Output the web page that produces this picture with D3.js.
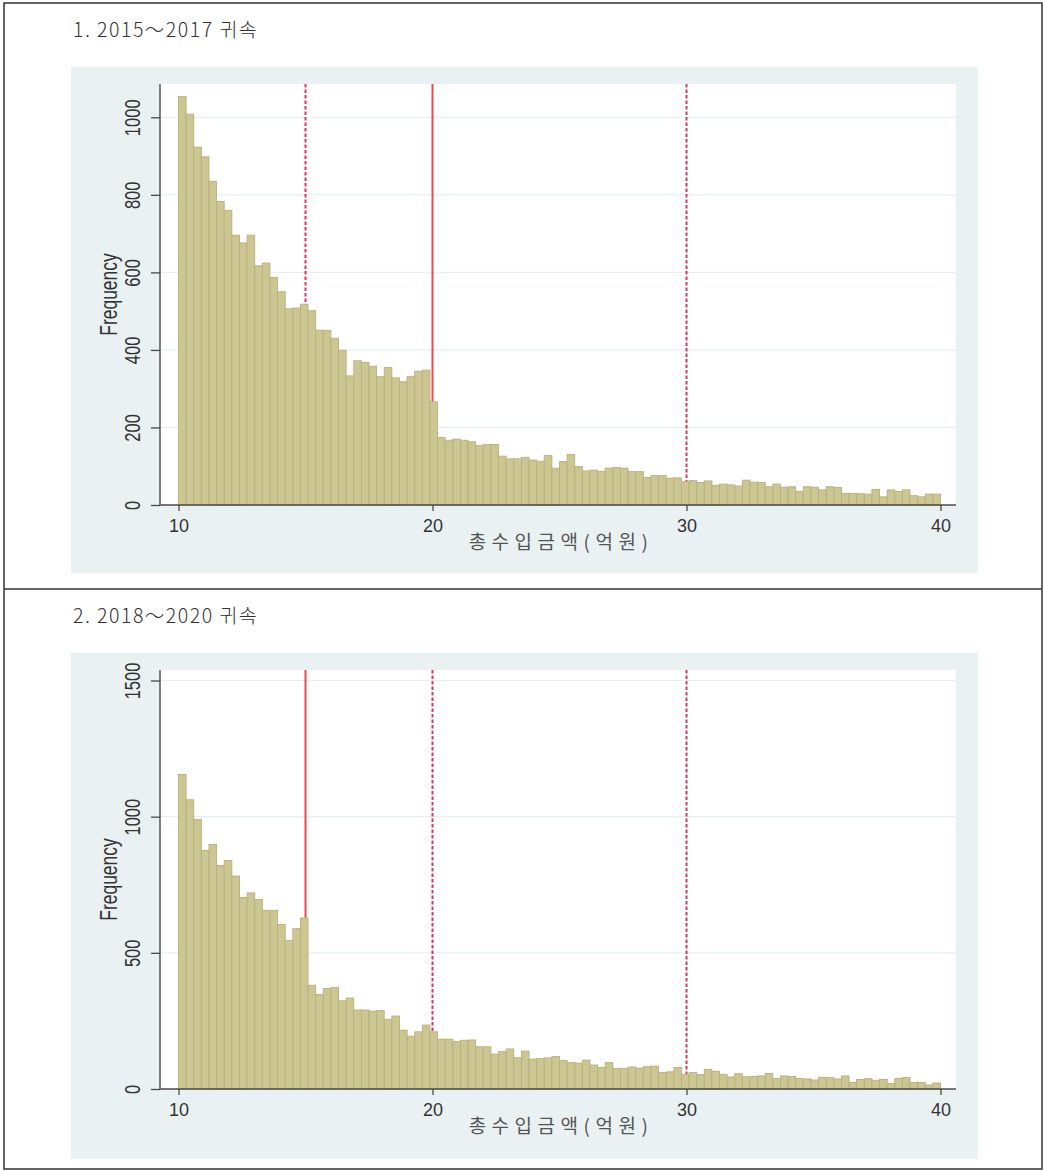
<!DOCTYPE html>
<html>
<head>
<meta charset="utf-8">
<script src="https://cdn.jsdelivr.net/npm/d3@7"></script>
<style>
  body { margin: 0; background: #fff; }
  svg { display: block; }
</style>
</head>
<body>
<svg id="chart" width="1044" height="1171"></svg>
<script>
// Histogram bins: 100 bins of width 0.3 from 10 to 40 (억원)
const binStart = 10;
const binWidth = 0.3;

// Frequencies, 2015~2017 귀속
const freq2015 = [
  1054, 1008, 923, 898, 835, 783, 760, 696, 676, 696,
  617, 624, 587, 550, 506, 508, 518, 501, 451, 450,
  430, 399, 333, 372, 368, 358, 331, 355, 328, 318,
  331, 345, 348, 266, 174, 167, 170, 167, 163, 153,
  156, 156, 126, 119, 119, 123, 116, 113, 128, 95,
  112, 130, 99, 88, 90, 87, 95, 97, 95, 86,
  86, 71, 76, 76, 69, 70, 60, 63, 58, 62,
  51, 54, 52, 49, 64, 59, 58, 47, 54, 46,
  47, 35, 47, 46, 39, 47, 45, 30, 30, 29,
  28, 40, 21, 39, 35, 39, 24, 21, 28, 28
];

// Frequencies, 2018~2020 귀속
const freq2018 = [
  1155, 1062, 990, 876, 898, 821, 839, 782, 703, 720,
  696, 656, 656, 604, 546, 589, 628, 381, 347, 369,
  373, 324, 334, 290, 290, 286, 288, 256, 268, 216,
  194, 210, 235, 210, 183, 183, 174, 179, 180, 155,
  155, 128, 137, 147, 115, 139, 110, 112, 114, 119,
  105, 97, 95, 106, 88, 79, 97, 76, 76, 81,
  77, 82, 84, 61, 63, 79, 53, 61, 53, 72,
  65, 54, 44, 56, 45, 46, 48, 57, 39, 48,
  46, 39, 37, 33, 43, 42, 37, 48, 24, 35,
  38, 32, 35, 20, 38, 42, 24, 24, 15, 22
];

const xTicks = [10, 20, 30, 40];
const yTicks2015 = [0, 200, 400, 600, 800, 1000];
const yTicks2018 = [0, 500, 1000, 1500];

// Threshold lines: the main threshold (solid) and the others (dashed)
const mainLine2015 = 20;
const otherLines2015 = [15, 30];
const mainLine2018 = 15;
const otherLines2018 = [20, 30];

const panelTitles = ["1. 2015～2017 귀속", "2. 2018～2020 귀속"];
const xTitle = "총수입금액(억원)";
const yTitle = "Frequency";

const svg = d3.select("#chart");

// Outer table frame with a divider between the two rows
const frame = svg.append("g").attr("fill", "none").attr("stroke", "#333").attr("stroke-width", 1.5);
frame.append("rect").attr("x", 4).attr("y", 3).attr("width", 1038).attr("height", 1166);
frame.append("line").attr("x1", 4).attr("x2", 1042).attr("y1", 589).attr("y2", 589);

const panels = [
  { title: panelTitles[0], data: freq2015, yTicks: yTicks2015, yMax: 1000,
    main: mainLine2015, others: otherLines2015,
    titleY: 37, bgTop: 67, plotTop: 84, plotBottom: 505, yMaxPx: 117.3 },
  { title: panelTitles[1], data: freq2018, yTicks: yTicks2018, yMax: 1500,
    main: mainLine2018, others: otherLines2018,
    titleY: 623, bgTop: 653, plotTop: 670, plotBottom: 1089, yMaxPx: 680.5 }
];

const plotLeft = 160, plotRight = 956;
const x = d3.scaleLinear().domain([10, 40]).range([178.5, 940.5]);

const bins = d3.range(freq2015.length).map(i => binStart + i * binWidth);

panels.forEach(p => {
  const g = svg.append("g");

  g.append("text")
    .attr("x", 73).attr("y", p.titleY)
    .attr("font-family", "'Noto Sans CJK KR', 'Noto Sans', sans-serif")
    .attr("font-weight", 300)
    .attr("font-size", 19.5)
    .attr("letter-spacing", 1.5)
    .attr("fill", "#333")
    .text(p.title);

  // Graph region and plot region
  g.append("rect").attr("x", 71).attr("y", p.bgTop).attr("width", 907).attr("height", 506)
    .attr("fill", "#EAF1F3");
  g.append("rect").attr("x", plotLeft).attr("y", p.plotTop)
    .attr("width", plotRight - plotLeft).attr("height", p.plotBottom - p.plotTop)
    .attr("fill", "#fff");

  const y = d3.scaleLinear().domain([0, p.yMax]).range([p.plotBottom, p.yMaxPx]);

  // Horizontal gridlines
  g.append("g").selectAll("line").data(p.yTicks.filter(v => v > 0)).join("line")
    .attr("x1", plotLeft).attr("x2", plotRight)
    .attr("y1", d => y(d)).attr("y2", d => y(d))
    .attr("stroke", "#E6EFF1").attr("stroke-width", 1.2);

  // Threshold lines, drawn beneath the bars
  g.append("line")
    .attr("x1", x(p.main)).attr("x2", x(p.main))
    .attr("y1", p.plotTop).attr("y2", p.plotBottom)
    .attr("stroke", "#EC4A4C").attr("stroke-width", 2);
  g.append("g").selectAll("line").data(p.others).join("line")
    .attr("x1", d => x(d)).attr("x2", d => x(d))
    .attr("y1", p.plotTop).attr("y2", p.plotBottom)
    .attr("stroke", "#D8385C").attr("stroke-width", 2)
    .attr("stroke-dasharray", "3.5,2");

  // Histogram bars
  g.append("g").selectAll("rect").data(p.data).join("rect")
    .attr("x", (d, i) => x(bins[i]))
    .attr("width", (d, i) => x(bins[i] + binWidth) - x(bins[i]))
    .attr("y", d => y(d))
    .attr("height", d => y(0) - y(d))
    .attr("fill", "#CCC692")
    .attr("stroke", "#B9B17A")
    .attr("stroke-width", 0.9);

  // Axis lines
  const axisColor = "#4a4a4a";
  g.append("line").attr("x1", plotLeft).attr("x2", plotLeft)
    .attr("y1", p.plotTop).attr("y2", p.plotBottom)
    .attr("stroke", axisColor).attr("stroke-width", 1.4);
  g.append("line").attr("x1", plotLeft).attr("x2", plotRight)
    .attr("y1", p.plotBottom).attr("y2", p.plotBottom)
    .attr("stroke", axisColor).attr("stroke-width", 1.4);

  // Y axis: ticks with vertical labels
  const yAxis = g.append("g")
    .attr("transform", `translate(${plotLeft},0)`)
    .call(d3.axisLeft(y).tickValues(p.yTicks).tickSize(9).tickFormat(d3.format("d")));
  yAxis.select(".domain").remove();
  yAxis.selectAll(".tick line").attr("stroke", axisColor).attr("stroke-width", 1.3);
  yAxis.selectAll(".tick text")
    .attr("x", null).attr("dy", null)
    .attr("text-anchor", "middle")
    .attr("transform", "translate(-20,0) scale(1.3,1) rotate(-90)")
    .attr("font-family", "'Liberation Sans', Arial, sans-serif")
    .attr("font-size", 16.5)
    .attr("fill", "#333");

  // X axis
  const xAxis = g.append("g")
    .attr("transform", `translate(0,${p.plotBottom})`)
    .call(d3.axisBottom(x).tickValues(xTicks).tickSize(6).tickPadding(8));
  xAxis.select(".domain").remove();
  xAxis.selectAll(".tick line").attr("stroke", axisColor).attr("stroke-width", 1.3);
  xAxis.selectAll(".tick text")
    .attr("font-family", "'Liberation Sans', Arial, sans-serif")
    .attr("font-size", 18)
    .attr("fill", "#333");

  // Axis titles
  const midY = (p.plotTop + p.plotBottom) / 2;
  g.append("text")
    .attr("transform", `translate(117,${midY}) scale(1.35,1) rotate(-90)`)
    .attr("text-anchor", "middle")
    .attr("font-family", "'Liberation Sans', Arial, sans-serif")
    .attr("font-size", 17.5)
    .attr("fill", "#333")
    .text(yTitle);

  g.append("text")
    .attr("x", 561).attr("y", p.plotBottom + 44)
    .attr("text-anchor", "middle")
    .attr("font-family", "'Noto Sans CJK KR', sans-serif")
    .attr("font-size", 19)
    .attr("letter-spacing", 5.5)
    .attr("fill", "#555")
    .text(xTitle);
});
</script>
</body>
</html>
